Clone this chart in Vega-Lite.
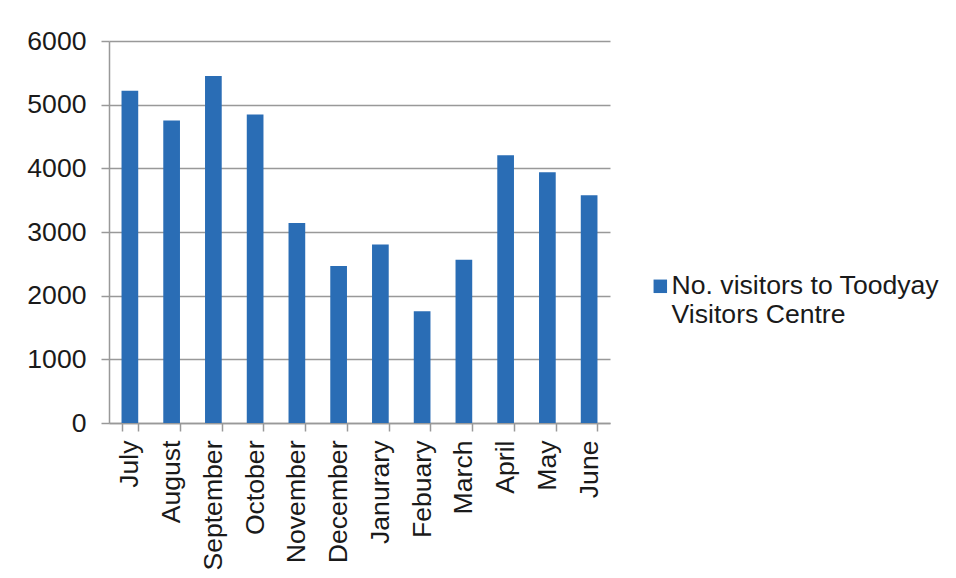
{
  "$schema": "https://vega.github.io/schema/vega-lite/v6.json",
  "width": 501,
  "height": 382,
  "autosize": {"type": "none"},
  "padding": {"left": 109, "top": 41, "right": 346, "bottom": 155},
  "background": "white",
  "data": {
    "values": [
      {"month": "July", "visitors": 5220},
      {"month": "August", "visitors": 4750},
      {"month": "September", "visitors": 5450},
      {"month": "October", "visitors": 4845},
      {"month": "November", "visitors": 3140},
      {"month": "December", "visitors": 2466},
      {"month": "Janurary", "visitors": 2802},
      {"month": "Febuary", "visitors": 1754},
      {"month": "March", "visitors": 2566},
      {"month": "April", "visitors": 4204},
      {"month": "May", "visitors": 3937},
      {"month": "June", "visitors": 3576}
    ]
  },
  "mark": {"type": "bar", "color": "#2a6db5"},
  "encoding": {
    "x": {
      "field": "month",
      "type": "nominal",
      "sort": null,
      "scale": {"paddingInner": 0.6, "paddingOuter": 0.3},
      "axis": {
        "title": null,
        "labelAngle": -90,
        "labelFont": "Liberation Sans",
        "labelFontSize": 26.6,
        "labelColor": "#1a1a1a",
        "labelPadding": 9,
        "tickBand": "extent",
        "tickSize": 8,
        "tickColor": "#999999",
        "tickWidth": 1.5,
        "domainColor": "#999999",
        "domainWidth": 1.5,
        "grid": false
      }
    },
    "y": {
      "field": "visitors",
      "type": "quantitative",
      "scale": {"domain": [0, 6000], "nice": false},
      "axis": {
        "title": null,
        "values": [0, 1000, 2000, 3000, 4000, 5000, 6000],
        "format": "d",
        "labelFont": "Liberation Sans",
        "labelFontSize": 26.6,
        "labelColor": "#1a1a1a",
        "labelPadding": 15,
        "tickSize": 8,
        "tickColor": "#999999",
        "tickWidth": 1.5,
        "domainColor": "#999999",
        "domainWidth": 1.5,
        "grid": true,
        "gridColor": "#999999",
        "gridWidth": 1.5
      }
    },
    "fill": {
      "datum": "No. visitors to Toodyay Visitors Centre",
      "scale": {"range": ["#2a6db5"]},
      "legend": {
        "title": null,
        "orient": "none",
        "legendX": 538,
        "legendY": 232,
        "padding": 0,
        "symbolType": "square",
        "symbolSize": 182,
        "symbolStrokeWidth": 0,
        "labelFont": "Liberation Sans",
        "labelFontSize": 26.6,
        "labelColor": "#1a1a1a",
        "labelBaseline": "middle",
        "labelLineHeight": 28,
        "labelLimit": 0,
        "labelOffset": -2,
        "labelExpr": "['No. visitors to Toodyay', 'Visitors Centre']"
      }
    }
  },
  "config": {
    "view": {"stroke": null}
  }
}
